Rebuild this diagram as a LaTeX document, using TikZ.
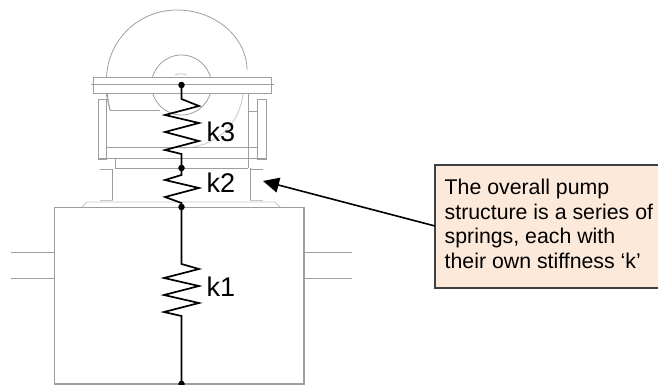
\documentclass[tikz,border=0pt]{standalone}
\usepackage{fontspec}
\setmainfont{Liberation Sans}
\usetikzlibrary{arrows.meta}
\definecolor{gl}{gray}{0.62}
\definecolor{glt}{gray}{0.78}
\definecolor{boxfill}{RGB}{253,233,217}
\tikzset{
  part/.style={draw=gl,line width=0.8pt},
  partlt/.style={draw=glt,line width=0.8pt},
  partthick/.style={draw=glt,line width=1.6pt},
  casing/.style={draw=gl,line width=1.1pt},
  spring/.style={draw=black,line width=1.7pt,line join=miter},
  joint/.style={circle,fill=black,inner sep=0pt,minimum size=6.5pt},
  klabel/.style={font=\fontsize{27}{30}\selectfont,anchor=base west,inner sep=0pt},
  callout/.style={draw=black!75,line width=1.3pt,fill=boxfill},
  callouttext/.style={anchor=north west,inner sep=0pt,align=left,font=\fontsize{21.3}{24.6}\selectfont}
}
\begin{document}
\begin{tikzpicture}[x=1pt,y=-1pt]
\useasboundingbox (0,0) rectangle (658,385);
% pump volute
\draw[part] (110,110) .. controls (108,101) and (106.5,90) .. (106.5,80)
  .. controls (106.5,41) and (138,10) .. (177,10)
  .. controls (216,10) and (247,38) .. (247,70);
\draw[partlt] (243,93) .. controls (240,125) and (215,148) .. (181.5,148);
\draw[part] (181.5,85) circle[radius=30];
\draw[partlt] (175,75) .. controls (178,73.5) and (184,73.5) .. (187,75);
% top flange
\draw[part,fill=white] (93,77) rectangle (271,93);
\draw[part] (91,84.5) -- (274,84.5);
% side flanges and body
\draw[part] (98,99) rectangle (106,159);
\draw[part] (257,99) rectangle (266,159);
\draw[part] (106,93) -- (110,110);
\draw[part] (248,93) -- (248,168);
\draw[part] (110,110) -- (160,110);
\draw[part] (248,111) -- (257,111);
\draw[part] (106,147) -- (257,147);
\draw[part] (98,158.5) -- (266,158.5);
\draw[part] (115,158.5) -- (115,168);
\draw[part] (115,168) -- (248,168);
% mount
\draw[part] (100,169) -- (113,169);
\draw[part] (250,169) -- (263,169);
\draw[part] (112,169) -- (112,200);
\draw[part] (250.5,168) -- (250.5,200);
\draw[partthick] (100,200.5) -- (113,200.5);
\draw[partthick] (250,200.5) -- (263,200.5);
\draw[partlt] (82,207) -- (87,202) -- (275,202) -- (280,207);
% casing and pipes
\draw[casing] (54.5,207.5) rectangle (304,384);
\draw[part] (11,252) -- (54.5,252);
\draw[part] (11,278) -- (54.5,278);
\draw[part] (304,252) -- (352,252);
\draw[part] (304,278) -- (352,278);
% joints
\node[joint] (j0) at (181.5,85) {};
\node[joint] (j1) at (181.5,168) {};
\node[joint] (j2) at (181.5,207) {};
\node[joint] (j3) at (181.5,384) {};
% springs
\draw[spring] (j0.center) -- (181.5,99) -- (199,106) -- (165,115) -- (199,123) -- (165,132) -- (199,141) -- (165,150) -- (181.5,154) -- (j1.center);
\draw[spring] (j1.center) -- (181.5,175) -- (165,180) -- (199,188) -- (165,197) -- (181.5,203) -- (j2.center);
\draw[spring] (j2.center) -- (181.5,264) -- (199,269) -- (164,278) -- (199,286) -- (164,295) -- (199,303) -- (164,312) -- (181.5,316) -- (j3.center);
% labels
\node[klabel] (k3) at (206.5,141) {k3};
\node[klabel] (k2) at (206.5,192) {k2};
\node[klabel] (k1) at (206.5,296) {k1};
% callout
\path[callout] (435,165) rectangle (662,288);
\coordinate (cbox) at (435,226);
\coordinate (tip) at (263,181);
\node[callouttext] (ctext) at (444.5,179) {The overall pump\\structure is a series of\\springs, each with\\their own stiffness ‘k’};
\draw[black,line width=1.6pt,-{Triangle[length=16pt,width=15pt]}] (cbox) -- (tip);
\end{tikzpicture}
\end{document}
